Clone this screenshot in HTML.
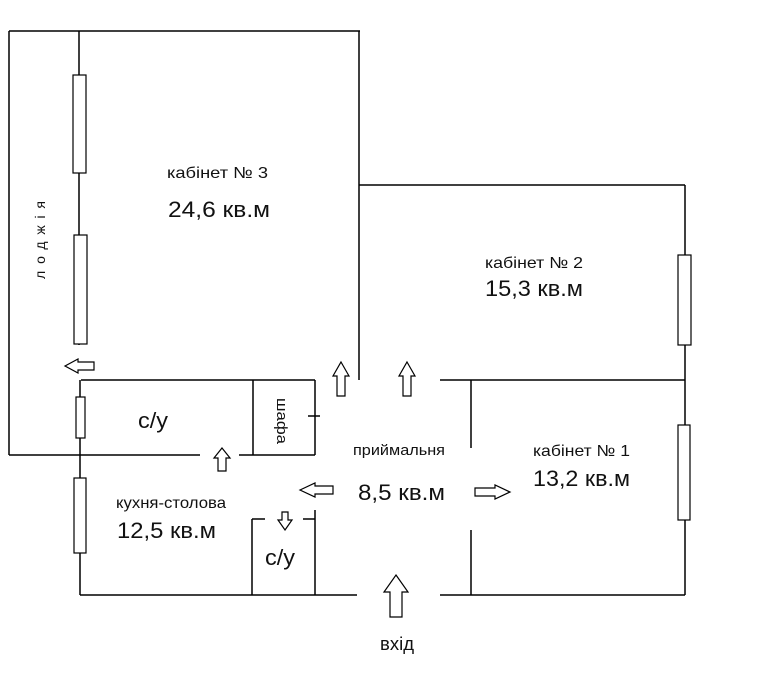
<!DOCTYPE html>
<html><head><meta charset="utf-8"><style>
html,body{margin:0;padding:0;background:#fff}
svg{display:block}
text{font-family:"Liberation Sans",sans-serif;fill:#111}
</style></head><body>
<svg width="770" height="684" viewBox="0 0 770 684" xmlns="http://www.w3.org/2000/svg">
<g stroke="#000" stroke-width="1.5" fill="none">
<line x1="9" y1="31" x2="360" y2="31"/>
<line x1="9" y1="31" x2="9" y2="455"/>
<line x1="9" y1="455" x2="200" y2="455"/>
<line x1="239" y1="455" x2="315" y2="455"/>
<line x1="359" y1="31" x2="359" y2="380"/>
<line x1="79" y1="31" x2="79" y2="345"/>
<line x1="80" y1="380" x2="80" y2="595"/>
<line x1="359" y1="185" x2="685" y2="185"/>
<line x1="685" y1="185" x2="685" y2="595"/>
<line x1="81" y1="380" x2="315" y2="380"/>
<line x1="440" y1="380" x2="685" y2="380"/>
<line x1="253" y1="380" x2="253" y2="455"/>
<line x1="315" y1="380" x2="315" y2="455"/>
<line x1="308" y1="416" x2="320" y2="416"/>
<line x1="471" y1="380" x2="471" y2="448"/>
<line x1="471" y1="530" x2="471" y2="595"/>
<line x1="252" y1="519" x2="265" y2="519"/>
<line x1="303" y1="519" x2="315" y2="519"/>
<line x1="252" y1="519" x2="252" y2="595"/>
<line x1="315" y1="510" x2="315" y2="595"/>
<line x1="80" y1="595" x2="357" y2="595"/>
<line x1="440" y1="595" x2="685" y2="595"/>
</g>
<g stroke="#000" stroke-width="1.2" fill="#fff">
<rect x="73" y="75" width="13" height="98"/>
<rect x="74" y="235" width="13" height="109"/>
<rect x="76" y="397" width="9" height="41"/>
<rect x="74" y="478" width="12" height="75"/>
<rect x="678" y="255" width="13" height="90"/>
<rect x="678" y="425" width="12" height="95"/>
<polygon points="65,366 78,359 78,362 94,362 94,370 78,370 78,373"/>
<polygon points="222,448 230,458 226,458 226,471 218,471 218,458 214,458"/>
<polygon points="341,362 349,376 345,376 345,396 337,396 337,376 333,376"/>
<polygon points="407,362 415,376 411,376 411,396 403,396 403,376 399,376"/>
<polygon points="300,490 315,483 315,486 333,486 333,494 315,494 315,497"/>
<polygon points="510,492 495,485 495,488 475,488 475,496 495,496 495,499"/>
<polygon points="285,530 292,520 288,520 288,512 282,512 282,520 278,520"/>
<polygon points="396,575 408,592 402,592 402,617 390,617 390,592 384,592"/>
</g>
<text x="167" y="178" font-size="16" textLength="101" lengthAdjust="spacingAndGlyphs">кабінет № 3</text>
<text x="168" y="217" font-size="22" textLength="102" lengthAdjust="spacingAndGlyphs">24,6 кв.м</text>
<text transform="translate(45,279) rotate(-90)" font-size="14" textLength="78" lengthAdjust="spacing">лоджія</text>
<text x="485" y="268" font-size="16" textLength="98" lengthAdjust="spacingAndGlyphs">кабінет № 2</text>
<text x="485" y="296" font-size="22" textLength="98" lengthAdjust="spacingAndGlyphs">15,3 кв.м</text>
<text x="353" y="455" font-size="15" textLength="92" lengthAdjust="spacingAndGlyphs">приймальня</text>
<text x="358" y="500" font-size="22" textLength="87" lengthAdjust="spacingAndGlyphs">8,5 кв.м</text>
<text x="533" y="456" font-size="16" textLength="97" lengthAdjust="spacingAndGlyphs">кабінет № 1</text>
<text x="533" y="486" font-size="22" textLength="97" lengthAdjust="spacingAndGlyphs">13,2 кв.м</text>
<text x="138" y="428" font-size="22" textLength="30" lengthAdjust="spacingAndGlyphs">с/у</text>
<text transform="translate(277,398) rotate(90)" font-size="15" textLength="46" lengthAdjust="spacingAndGlyphs">шафа</text>
<text x="116" y="508" font-size="16" textLength="110" lengthAdjust="spacingAndGlyphs">кухня-столова</text>
<text x="117" y="538" font-size="22" textLength="99" lengthAdjust="spacingAndGlyphs">12,5 кв.м</text>
<text x="265" y="565" font-size="22" textLength="30" lengthAdjust="spacingAndGlyphs">с/у</text>
<text x="380" y="650" font-size="18" textLength="34" lengthAdjust="spacingAndGlyphs">вхід</text>
</svg>
</body></html>
